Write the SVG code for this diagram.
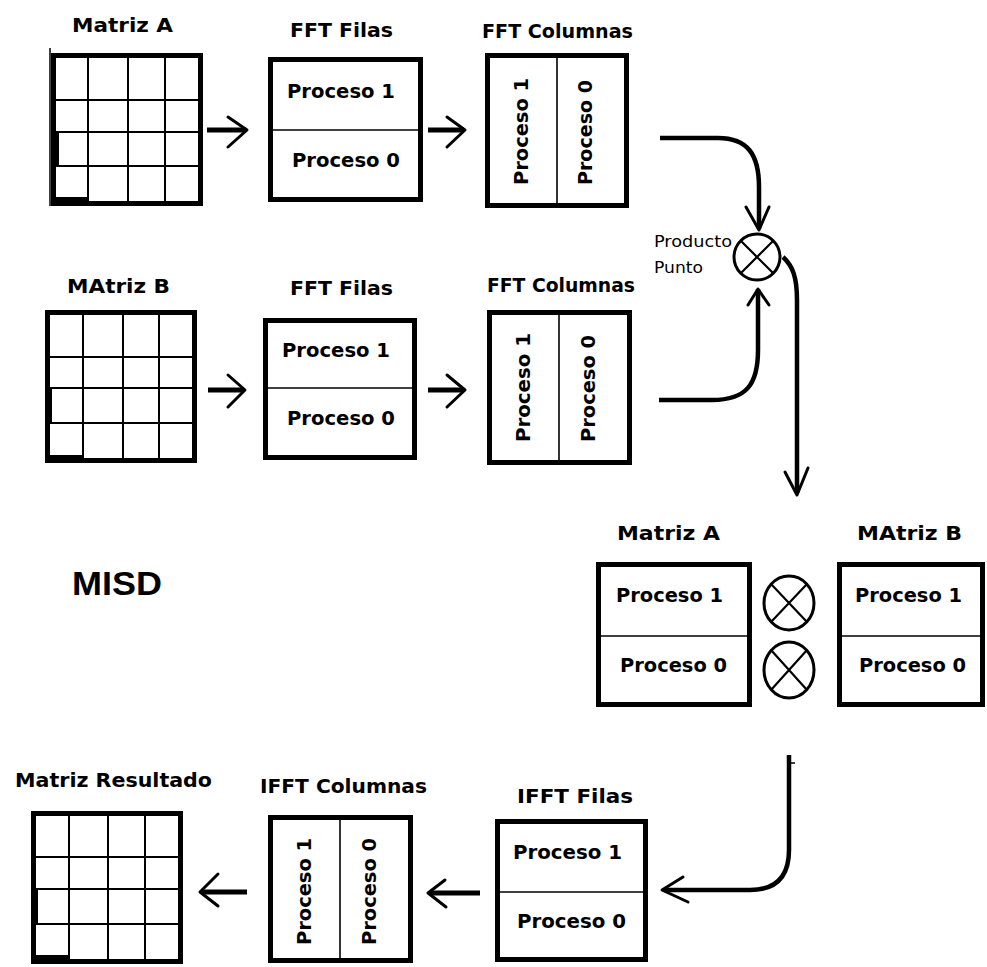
<svg xmlns="http://www.w3.org/2000/svg" width="987" height="967" viewBox="0 0 987 967">
<style>
.bg{fill:#fff}
.box{fill:#fff;stroke:#000;stroke-width:5}
.div{stroke:#000;stroke-width:1.6;fill:none}
.grid{stroke:#000;stroke-width:2;fill:none}
.blk{fill:#000}
.t{font-family:'DejaVu Sans',Verdana,sans-serif;font-weight:bold;font-size:20px;fill:#000}
.s{font-family:'DejaVu Sans',Verdana,sans-serif;font-size:16px;fill:#000}
.big{font-family:'Liberation Sans',Arial,sans-serif;font-weight:bold;font-size:34px;fill:#000}
.shaft{stroke:#000;stroke-width:5;fill:none}
.head{stroke:#000;stroke-width:3;fill:none;stroke-linecap:round;stroke-linejoin:round}
.curve{stroke:#000;stroke-width:4.5;fill:none}
.op{fill:#fff;stroke:#000;stroke-width:3}
.x{stroke:#000;stroke-width:2.2}
</style>
<rect class="bg" x="0" y="0" width="987" height="967"/>

<g id="matrizA">
<text class="t" x="72" y="32" textLength="101" lengthAdjust="spacingAndGlyphs">Matriz A</text>
<rect class="box" x="53.5" y="55.5" width="147" height="148"/>
<path class="grid" d="M88,56V203M128,56V203M165,56V203M54,100H200M54,132H200M54,166H200"/>
<rect class="blk" x="51" y="132" width="8" height="34"/>
<rect class="blk" x="51" y="197" width="37" height="9"/>
<line x1="50" y1="48" x2="50" y2="206" stroke="#000" stroke-width="1.5"/>
</g>

<g id="fftFilas1">
<text class="t" x="290" y="37" textLength="103" lengthAdjust="spacingAndGlyphs">FFT Filas</text>
<rect class="box" x="270.5" y="59.5" width="150" height="140"/>
<line class="div" x1="271" y1="130" x2="420" y2="130"/>
<text class="t" x="287" y="98" textLength="108" lengthAdjust="spacingAndGlyphs">Proceso 1</text>
<text class="t" x="292" y="167" textLength="108" lengthAdjust="spacingAndGlyphs">Proceso 0</text>
</g>

<g id="fftColumnas1">
<text class="t" x="482" y="38" textLength="151" lengthAdjust="spacingAndGlyphs">FFT Columnas</text>
<rect class="box" x="487.5" y="55.5" width="139" height="150"/>
<line class="div" x1="557" y1="56" x2="557" y2="205"/>
<text class="t" transform="translate(528,185) rotate(-90)" textLength="107" lengthAdjust="spacingAndGlyphs">Proceso 1</text>
<text class="t" transform="translate(592,185) rotate(-90)" textLength="105" lengthAdjust="spacingAndGlyphs">Proceso 0</text>
</g>

<g id="matrizB">
<text class="t" x="67" y="293" textLength="103" lengthAdjust="spacingAndGlyphs">MAtriz B</text>
<rect class="box" x="47.5" y="312.5" width="147" height="148"/>
<path class="grid" d="M83,313V460M123,313V460M159,313V460M48,357H194M48,388H194M48,423H194"/>
<rect class="blk" x="45" y="388" width="7" height="35"/>
<rect class="blk" x="45" y="455" width="38" height="8"/>
</g>

<g id="fftFilas2">
<text class="t" x="290" y="295" textLength="103" lengthAdjust="spacingAndGlyphs">FFT Filas</text>
<rect class="box" x="265.5" y="320.5" width="149" height="137"/>
<line class="div" x1="266" y1="388" x2="414" y2="388"/>
<text class="t" x="282" y="357" textLength="108" lengthAdjust="spacingAndGlyphs">Proceso 1</text>
<text class="t" x="287" y="425" textLength="108" lengthAdjust="spacingAndGlyphs">Proceso 0</text>
</g>

<g id="fftColumnas2">
<text class="t" x="487" y="292" textLength="148" lengthAdjust="spacingAndGlyphs">FFT Columnas</text>
<rect class="box" x="489.5" y="312.5" width="140" height="150"/>
<line class="div" x1="559" y1="313" x2="559" y2="462"/>
<text class="t" transform="translate(530,442) rotate(-90)" textLength="109" lengthAdjust="spacingAndGlyphs">Proceso 1</text>
<text class="t" transform="translate(595,442) rotate(-90)" textLength="107" lengthAdjust="spacingAndGlyphs">Proceso 0</text>
</g>

<g id="productoPunto">
<circle class="op" cx="757" cy="257" r="23"/>
<path class="x" d="M741,241L773,273M773,241L741,273"/>
<text class="s" x="654" y="247" textLength="78" lengthAdjust="spacingAndGlyphs">Producto</text>
<text class="s" x="654" y="273" textLength="49" lengthAdjust="spacingAndGlyphs">Punto</text>
</g>

<g id="misd">
<text class="big" x="72" y="595" textLength="90" lengthAdjust="spacingAndGlyphs">MISD</text>
</g>

<g id="matrizAProc">
<text class="t" x="617" y="540" textLength="103" lengthAdjust="spacingAndGlyphs">Matriz A</text>
<rect class="box" x="598.5" y="564.5" width="151" height="140"/>
<line class="div" x1="599" y1="636" x2="749" y2="636"/>
<text class="t" x="616" y="602" textLength="107" lengthAdjust="spacingAndGlyphs">Proceso 1</text>
<text class="t" x="620" y="672" textLength="107" lengthAdjust="spacingAndGlyphs">Proceso 0</text>
</g>

<g id="productos">
<ellipse class="op" cx="789" cy="603" rx="25" ry="27"/>
<path class="x" d="M771,584L807,622M807,584L771,622"/>
<ellipse class="op" cx="789" cy="670" rx="25" ry="28"/>
<path class="x" d="M771,650L807,690M807,650L771,690"/>
</g>

<g id="matrizBProc">
<text class="t" x="857" y="540" textLength="105" lengthAdjust="spacingAndGlyphs">MAtriz B</text>
<rect class="box" x="839.5" y="564.5" width="143" height="140"/>
<line class="div" x1="840" y1="636" x2="982" y2="636"/>
<text class="t" x="855" y="602" textLength="107" lengthAdjust="spacingAndGlyphs">Proceso 1</text>
<text class="t" x="859" y="672" textLength="107" lengthAdjust="spacingAndGlyphs">Proceso 0</text>
</g>

<g id="ifftFilas">
<text class="t" x="517" y="803" textLength="116" lengthAdjust="spacingAndGlyphs">IFFT Filas</text>
<rect class="box" x="497.5" y="821.5" width="148" height="138"/>
<line class="div" x1="498" y1="892" x2="645" y2="892"/>
<text class="t" x="513" y="859" textLength="109" lengthAdjust="spacingAndGlyphs">Proceso 1</text>
<text class="t" x="517" y="928" textLength="109" lengthAdjust="spacingAndGlyphs">Proceso 0</text>
</g>

<g id="ifftColumnas">
<text class="t" x="260" y="793" textLength="167" lengthAdjust="spacingAndGlyphs">IFFT Columnas</text>
<rect class="box" x="270.5" y="817.5" width="140" height="143"/>
<line class="div" x1="340" y1="818" x2="340" y2="960"/>
<text class="t" transform="translate(311,945) rotate(-90)" textLength="107" lengthAdjust="spacingAndGlyphs">Proceso 1</text>
<text class="t" transform="translate(376,945) rotate(-90)" textLength="107" lengthAdjust="spacingAndGlyphs">Proceso 0</text>
</g>

<g id="matrizResultado">
<text class="t" x="15" y="787" textLength="197" lengthAdjust="spacingAndGlyphs">Matriz Resultado</text>
<rect class="box" x="33.5" y="813.5" width="147" height="148"/>
<path class="grid" d="M69,814V961M108,814V961M145,814V961M34,857H180M34,889H180M34,924H180"/>
<rect class="blk" x="31" y="889" width="7" height="35"/>
<rect class="blk" x="31" y="955" width="38" height="9"/>
</g>

<g id="connectors">
<line class="shaft" x1="207" y1="130" x2="246" y2="130"/>
<path class="head" d="M228,117L247,130L228,147"/>
<line class="shaft" x1="428" y1="130" x2="464" y2="130"/>
<path class="head" d="M447,117L465,130L447,147"/>
<line class="shaft" x1="208" y1="390" x2="244" y2="390"/>
<path class="head" d="M228,375L245,390L228,407"/>
<line class="shaft" x1="428" y1="390" x2="464" y2="390"/>
<path class="head" d="M447,375L465,390L447,407"/>

<path class="curve" d="M660,138H718C748,138 759,155 759,187V229"/>
<path class="head" d="M746,207L759,230L769,207"/>
<path class="curve" d="M659,400H712C746,400 758,385 758,350V289"/>
<path class="head" d="M748,305L758,289L769,305"/>
<path class="curve" d="M783,257C793,266 797,278 797,300V493"/>
<path class="head" d="M785,472L797,495L808,468"/>

<path class="curve" d="M789,755V850C789,878 775,890 750,890H664"/>
<path class="head" d="M683,877L662,890L688,902" stroke-width="4"/>
<line x1="789" y1="763" x2="795" y2="763" stroke="#000" stroke-width="1.5"/>

<line class="shaft" x1="480" y1="893" x2="430" y2="893"/>
<path class="head" d="M445,880L428,893L446,907" stroke-width="4"/>
<line class="shaft" x1="247" y1="892" x2="202" y2="892"/>
<path class="head" d="M218,874L200,892L218,906"/>
</g>
</svg>
